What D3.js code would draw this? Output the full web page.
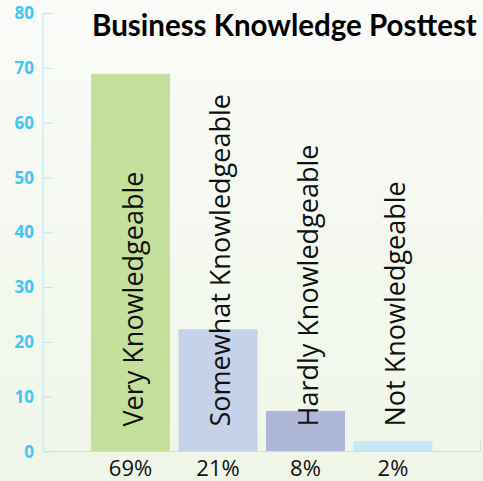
<!DOCTYPE html>
<meta charset="utf-8">
<html>
<head>
  <meta charset="utf-8">
  <script src="https://d3js.org/d3.v7.min.js"></script>
  <style>
    body { margin: 0; }
    svg { display: block; }
  </style>
</head>
<body>
  <svg width="483" height="481"></svg>

  <script>
    // data
    const categories = ["Very Knowledgeable", "Somewhat Knowledgeable", "Hardly Knowledgeable", "Not Knowledgeable"];
    const values = [68.9, 22.3, 7.4, 1.9];
    const percentLabels = ["69%", "21%", "8%", "2%"];
    const yTicks = [0, 10, 20, 30, 40, 50, 60, 70, 80];
    const barColors = ["#c5df9d", "#c6d1ea", "#aeb7d8", "#c6e9f7"];
    const title = "Business Knowledge Posttest";

    let svg = d3.select("svg");

    // background gradient
    let defs = svg.append("defs");
    let grad = defs.append("linearGradient")
      .attr("id", "bg")
      .attr("x1", 0).attr("y1", 0).attr("x2", 0).attr("y2", 1);
    grad.append("stop").attr("offset", "0%").attr("stop-color", "#fafbf8");
    grad.append("stop").attr("offset", "100%").attr("stop-color", "#eff6e8");
    svg.append("rect").attr("width", 483).attr("height", 481).attr("fill", "url(#bg)");

    // scales
    let y = d3.scaleLinear().domain([0, 80]).range([451.5, 13]);
    let x = d3.scaleBand().domain(categories)
      .range([86.75, 436.75])
      .paddingInner(0.097)
      .paddingOuter(0.0485);

    let axisColor = "#b8e7f1";

    // bars
    svg.selectAll(".bar")
      .data(categories)
      .enter()
      .append("rect")
      .attr("class", "bar")
      .attr("x", d => x(d))
      .attr("width", x.bandwidth())
      .attr("y", (d, i) => y(values[i]))
      .attr("height", (d, i) => y(0) - y(values[i]))
      .attr("fill", (d, i) => barColors[i]);

    // y axis
    let yAxis = svg.append("g")
      .attr("transform", "translate(43,0)")
      .call(d3.axisRight(y).tickValues(yTicks).tickSize(10).tickFormat(""));
    yAxis.select(".domain").attr("stroke", axisColor).attr("d", "M0," + y(80) + "V" + y(0));
    yAxis.selectAll(".tick line").attr("stroke", axisColor);

    svg.selectAll(".ylab")
      .data(yTicks)
      .enter()
      .append("text")
      .attr("class", "ylab")
      .attr("x", 34)
      .attr("y", d => y(d))
      .attr("dy", "0.36em")
      .attr("text-anchor", "end")
      .style("font", "bold 17px 'Open Sans', sans-serif")
      .attr("fill", "#3fc6f4")
      .text(d => d);

    // x axis line with closing tick
    svg.append("path")
      .attr("d", "M43," + y(0) + "H480.5V" + (y(0) - 10))
      .attr("fill", "none")
      .attr("stroke", axisColor)
      .attr("stroke-width", 1);

    // rotated category labels
    svg.selectAll(".catlab")
      .data(categories)
      .enter()
      .append("text")
      .attr("class", "catlab")
      .attr("transform", d => "translate(" + (x(d) + x.bandwidth() / 2 + 12) + "," + (y(0) - 25) + ") rotate(-90)")
      .style("font", "27px 'Open Sans', sans-serif")
      .attr("fill", "#111")
      .text(d => d);

    // percent labels
    svg.selectAll(".pct")
      .data(categories)
      .enter()
      .append("text")
      .attr("class", "pct")
      .attr("x", d => x(d) + x.bandwidth() / 2)
      .attr("y", 476)
      .attr("text-anchor", "middle")
      .style("font", "22px 'Open Sans', sans-serif")
      .attr("fill", "#111")
      .text((d, i) => percentLabels[i]);

    // title
    svg.append("text")
      .attr("x", 92)
      .attr("y", 36)
      .style("font", "bold 29.5px Lato, sans-serif")
      .attr("fill", "#000")
      .text(title);
  </script>
</body>
</html>
